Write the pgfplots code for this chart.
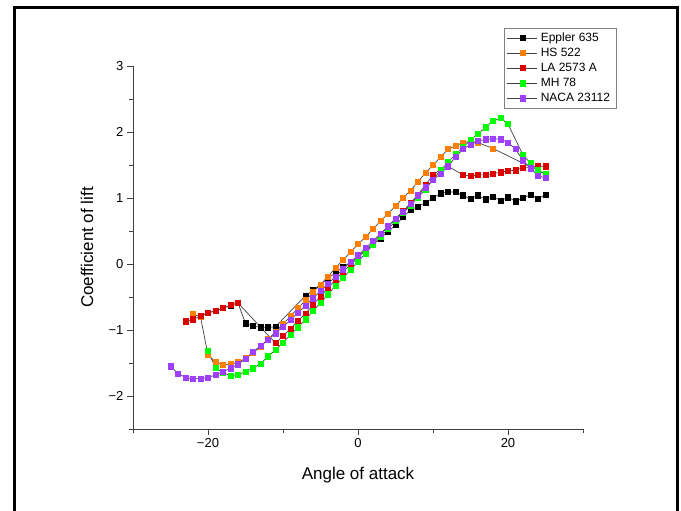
\documentclass[border=0pt]{standalone}
\usepackage{fontspec}
\setmainfont{Liberation Sans}
\usepackage{pgfplots}
\pgfplotsset{compat=1.18}
\definecolor{cOrange}{HTML}{FF8000}
\definecolor{cRed}{HTML}{DD0000}
\definecolor{cGreen}{HTML}{00FF00}
\definecolor{cPurple}{HTML}{9F3FFF}
\definecolor{cLine}{HTML}{404040}
\begin{document}
\begin{tikzpicture}[x=1pt,y=1pt]
\useasboundingbox (-133,-82) rectangle (548,429);
\draw[line width=3pt] (-118,-95) -- (-118,421) -- (544,421) -- (544,-95);
\begin{axis}[at={(0,0)}, anchor=south west, scale only axis,
  width=450pt, height=363pt,
  xmin=-30, xmax=30, ymin=-2.5, ymax=3,
  axis x line*=bottom, axis y line*=left,
  axis line style={cLine, line width=0.8pt, -},
  xtick={-20,0,20}, xticklabels={−20,0,20},
  minor xtick={-30,-10,10,30},
  ytick={-2,-1,0,1,2,3}, yticklabels={−2,−1,0,1,2,3},
  minor ytick={-2.5,-1.5,-0.5,0.5,1.5,2.5},
  tick align=outside, major tick length=6pt, minor tick length=4pt,
  tick style={cLine, line width=0.8pt},
  ticklabel style={font=\fontsize{13}{15}\selectfont},
  xlabel={Angle of attack}, ylabel={Coefficient of lift},
  xlabel style={at={(axis description cs:0.5,-0.127)}, anchor=center},
  ylabel style={at={(axis description cs:-0.102,0.5)}, anchor=center},
  label style={font=\fontsize{17}{20}\selectfont},
  legend image code/.code={\draw[mark repeat=2,mark phase=2,#1] plot coordinates {(0pt,0pt) (15pt,0pt) (30pt,0pt)};},
  legend style={at={(0.824,1.105)}, anchor=north west, draw=gray, line width=0.6pt,
    font=\fontsize{12}{14}\selectfont, row sep=2pt, inner sep=3pt,
    nodes={inner xsep=3pt, inner ysep=1.6pt}},
  legend cell align=left,
  clip=false,
]
\addplot[color=cLine, line width=0.7pt, mark=square*, mark size=2.6pt, mark options={fill=black, draw=black, solid}] coordinates {
(-21,-0.78) (-20,-0.74) (-19,-0.71) (-18,-0.67) (-17,-0.63) (-16,-0.59)
(-15,-0.90) (-14,-0.94) (-13,-0.96) (-12,-0.96) (-11,-0.95)
(-7,-0.48) (-6,-0.40) (-5,-0.31) (-4,-0.22) (-3,-0.13) (-2,-0.05) (-1,0.03)
(0,0.11) (1,0.20) (2,0.29) (3,0.39) (4,0.49) (5,0.59) (6,0.71) (7,0.82)
(8,0.87) (9,0.93) (10,1.00) (11,1.07) (12,1.09) (13,1.09) (14,1.04) (15,0.99)
(16,1.04) (17,0.98) (18,1.02) (19,0.96) (20,1.01) (21,0.95) (22,1.00)
(23,1.05) (24,0.99) (25,1.05)};
\addlegendentry{Eppler 635}
\addplot[color=cLine, line width=0.7pt, mark=square*, mark size=2.6pt, mark options={fill=cOrange, draw=cOrange, solid}] coordinates {
(-22,-0.76) (-21,-0.80) (-20,-1.38) (-19,-1.48) (-18,-1.53) (-17,-1.52)
(-16,-1.49) (-15,-1.43) (-14,-1.35) (-13,-1.25) (-12,-1.14) (-11,-1.03)
(-10,-0.91) (-9,-0.79) (-8,-0.67) (-7,-0.55) (-6,-0.43) (-5,-0.31)
(-4,-0.19) (-3,-0.06) (-2,0.06) (-1,0.18) (0,0.30) (1,0.41) (2,0.53)
(3,0.65) (4,0.76) (5,0.88) (6,1.00) (7,1.11) (8,1.25) (9,1.38) (10,1.50)
(11,1.62) (12,1.74) (13,1.79) (14,1.84) (15,1.86) (16,1.84) (18,1.75)
(25,1.36)};
\addlegendentry{HS 522}
\addplot[color=cLine, line width=0.7pt, mark=square*, mark size=2.6pt, mark options={fill=cRed, draw=cRed, solid}] coordinates {
(-23,-0.87) (-22,-0.84) (-21,-0.79) (-20,-0.74) (-19,-0.71) (-18,-0.67)
(-17,-0.62) (-16,-0.59) (-11,-1.20) (-10,-1.09) (-9,-0.98) (-8,-0.86)
(-7,-0.75) (-6,-0.62) (-5,-0.49) (-4,-0.36) (-3,-0.24) (-2,-0.12)
(-1,-0.01) (0,0.10) (1,0.21) (2,0.32) (3,0.44) (4,0.57) (5,0.69) (6,0.80)
(7,0.92) (8,1.05) (9,1.20) (10,1.35) (11,1.43) (12,1.48) (14,1.35)
(15,1.33) (16,1.35) (17,1.35) (18,1.37) (19,1.39) (20,1.41) (21,1.42)
(22,1.46) (23,1.47) (24,1.48) (25,1.48)};
\addlegendentry{LA 2573 A}
\addplot[color=cLine, line width=0.7pt, mark=square*, mark size=2.6pt, mark options={fill=cGreen, draw=cGreen, solid}] coordinates {
(-20,-1.32) (-19,-1.57) (-18,-1.65) (-17,-1.69) (-16,-1.68) (-15,-1.63)
(-14,-1.58) (-13,-1.51) (-12,-1.40) (-11,-1.30) (-10,-1.19) (-9,-1.07)
(-8,-0.96) (-7,-0.84) (-6,-0.71) (-5,-0.59) (-4,-0.46) (-3,-0.33)
(-2,-0.21) (-1,-0.09) (0,0.04) (1,0.16) (2,0.29) (3,0.41) (4,0.53)
(5,0.65) (6,0.77) (7,0.89) (8,1.01) (9,1.13) (10,1.28) (11,1.42) (12,1.54)
(13,1.66) (14,1.77) (15,1.88) (16,1.97) (17,2.07) (18,2.17) (19,2.21)
(20,2.12) (22,1.65) (23,1.53) (24,1.42) (25,1.36)};
\addlegendentry{MH 78}
\addplot[color=cLine, line width=0.7pt, mark=square*, mark size=2.6pt, mark options={fill=cPurple, draw=cPurple, solid}] coordinates {
(-25,-1.55) (-24,-1.66) (-23,-1.72) (-22,-1.74) (-21,-1.74) (-20,-1.72)
(-19,-1.68) (-18,-1.63) (-17,-1.58) (-16,-1.52) (-15,-1.44) (-14,-1.33)
(-13,-1.24) (-12,-1.15) (-11,-1.05) (-10,-0.95) (-9,-0.85) (-8,-0.74)
(-7,-0.63) (-6,-0.52) (-5,-0.41) (-4,-0.30) (-3,-0.19) (-2,-0.08)
(-1,0.03) (0,0.13) (1,0.24) (2,0.35) (3,0.46) (4,0.57) (5,0.68) (6,0.79)
(7,0.91) (8,1.04) (9,1.16) (10,1.27) (11,1.37) (12,1.48) (13,1.62)
(14,1.74) (15,1.81) (16,1.86) (17,1.89) (18,1.90) (19,1.89) (20,1.84)
(21,1.74) (22,1.57) (23,1.45) (24,1.34) (25,1.30)};
\addlegendentry{NACA 23112}
\end{axis}
\end{tikzpicture}
\end{document}
